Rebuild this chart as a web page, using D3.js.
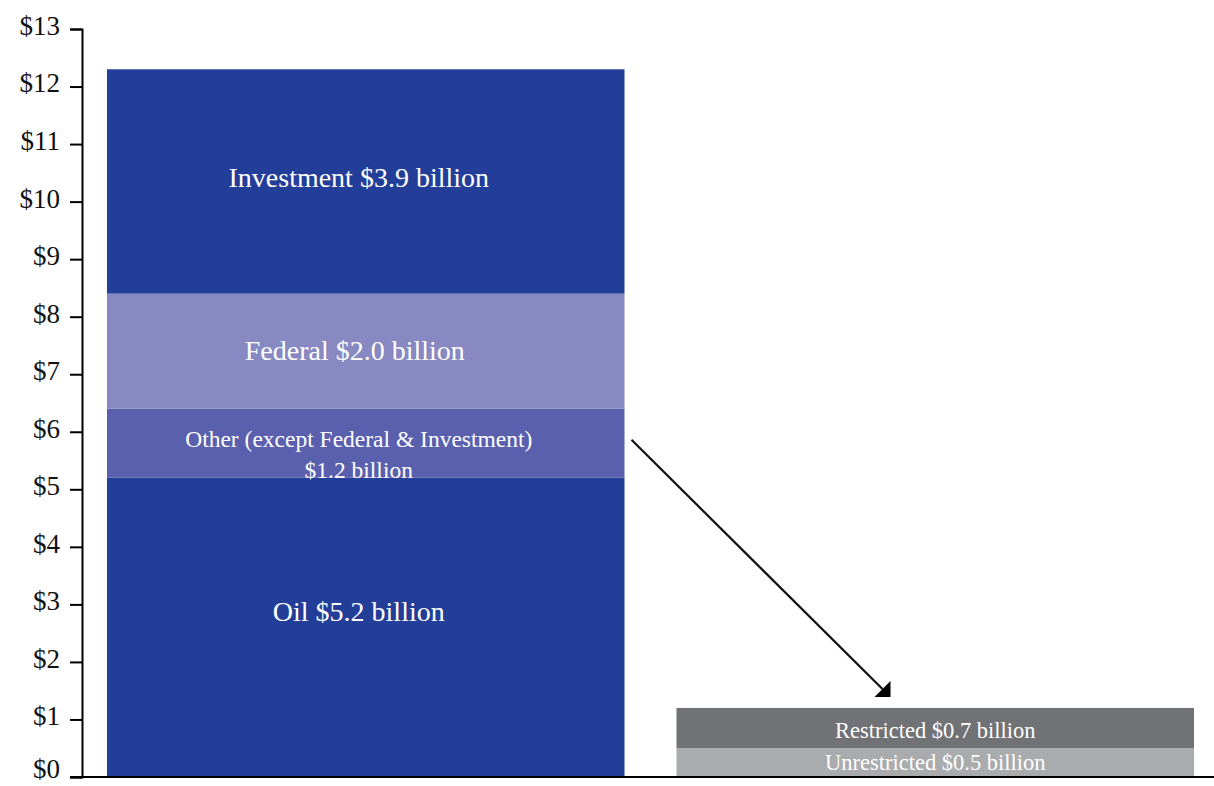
<!DOCTYPE html>
<html>
<head>
<meta charset="utf-8">
<script src="https://cdn.jsdelivr.net/npm/d3@7"></script>
<style>
  html, body { margin: 0; padding: 0; background: #fff; }
  svg text { font-family: "Liberation Serif", "DejaVu Serif", serif; }
</style>
</head>
<body>
<svg id="chart" width="1214" height="786"></svg>
<script>
// Revenue sources (billions of dollars), stacked bottom to top
const revenueNames  = ["Oil", "Other (except Federal & Investment)", "Federal", "Investment"];
const revenueValues = [5.2, 1.2, 2.0, 3.9];
const revenueColors = ["#233e99", "#5a60ad", "#8889c2", "#233e99"];

// Breakdown of the "Other" segment, bottom to top
const otherNames  = ["Unrestricted", "Restricted"];
const otherValues = [0.5, 0.7];
const otherColors = ["#aaabad", "#717275"];

const yTicks = d3.range(0, 14);

const svg = d3.select("#chart");
const baseY = 777, topY = 29, axisX = 82;

const y = d3.scaleLinear().domain([0, 13]).range([baseY, topY]);
const x = d3.scaleBand().domain(["revenue", "other"]).range([107, 1194]).paddingInner(0.0913);

function stack(vals) {
  let acc = 0;
  return vals.map(v => { const s = { y0: acc, y1: acc + v, v }; acc += v; return s; });
}

// Y axis
const axis = d3.axisLeft(y).tickValues(yTicks).tickSize(12).tickSizeOuter(12)
  .tickFormat(d => "$" + d);
const gAxis = svg.append("g").attr("transform", `translate(${axisX},0)`).call(axis);
gAxis.select(".domain").attr("stroke", "#000").attr("stroke-width", 2);
gAxis.selectAll(".tick line").attr("stroke", "#000").attr("stroke-width", 2);
gAxis.selectAll(".tick text")
  .attr("font-family", "Liberation Serif, serif")
  .attr("font-size", 27).attr("fill", "#111").attr("x", -22)
  .attr("dy", d => d === 0 ? "0.02em" : "0.2em");

// Revenue bar
const rev = stack(revenueValues);
const gRev = svg.append("g");
gRev.selectAll("rect").data(rev).join("rect")
  .attr("x", x("revenue")).attr("width", x.bandwidth())
  .attr("y", d => y(d.y1)).attr("height", d => y(d.y0) - y(d.y1))
  .attr("fill", (d, i) => revenueColors[i]);

const cx = x("revenue") + x.bandwidth() / 2 - 7;
const fmt = v => "$" + v.toFixed(1) + " billion";
const mid = s => (y(s.y0) + y(s.y1)) / 2;
gRev.append("text").attr("x", cx).attr("y", mid(rev[0]) - 6)
  .attr("text-anchor", "middle").attr("fill", "#fff").attr("font-size", 28)
  .text(revenueNames[0] + " " + fmt(revenueValues[0]));
gRev.append("text").attr("x", cx - 4).attr("y", mid(rev[2]) + 9)
  .attr("text-anchor", "middle").attr("fill", "#fff").attr("font-size", 28)
  .text(revenueNames[2] + " " + fmt(revenueValues[2]));
gRev.append("text").attr("x", cx).attr("y", mid(rev[3]) + 6)
  .attr("text-anchor", "middle").attr("fill", "#fff").attr("font-size", 28)
  .text(revenueNames[3] + " " + fmt(revenueValues[3]));
const otherLabel = gRev.append("text").attr("text-anchor", "middle").attr("fill", "#fff").attr("font-size", 23.5);
otherLabel.append("tspan").attr("x", cx).attr("y", y(rev[1].y1) + 38).text(revenueNames[1]);
otherLabel.append("tspan").attr("x", cx).attr("y", y(rev[1].y1) + 69).text(fmt(revenueValues[1]));

// Breakdown bar
const oth = stack(otherValues);
const gOth = svg.append("g");
gOth.selectAll("rect").data(oth).join("rect")
  .attr("x", x("other")).attr("width", x.bandwidth())
  .attr("y", d => y(d.y1)).attr("height", d => y(d.y0) - y(d.y1))
  .attr("fill", (d, i) => otherColors[i]);
const cx2 = x("other") + x.bandwidth() / 2;
gOth.selectAll("text").data(oth).join("text")
  .attr("x", cx2).attr("y", (d, i) => mid(d) + (i === 0 ? 7 : 10))
  .attr("text-anchor", "middle").attr("fill", "#fff").attr("font-size", 22.5)
  .text((d, i) => otherNames[i] + " " + fmt(otherValues[i]));

// Baseline
svg.append("line").attr("x1", axisX - 12).attr("x2", 1214)
  .attr("y1", baseY).attr("y2", baseY).attr("stroke", "#000").attr("stroke-width", 2);

// Connector arrow from the "Other" segment to its breakdown
const ax1 = x("revenue") + x.bandwidth() + 7, ay1 = y(rev[1].y0 + 0.55 * revenueValues[1]);
const tipX = x("other") + 214, tipY = y(oth[1].y1) - 11;
svg.append("line").attr("x1", ax1).attr("y1", ay1).attr("x2", tipX - 8).attr("y2", tipY - 8)
  .attr("stroke", "#111").attr("stroke-width", 2.2);
svg.append("path")
  .attr("d", `M${tipX},${tipY} L${tipX},${tipY - 16} L${tipX - 16},${tipY} Z`)
  .attr("fill", "#000");
</script>
</body>
</html>
